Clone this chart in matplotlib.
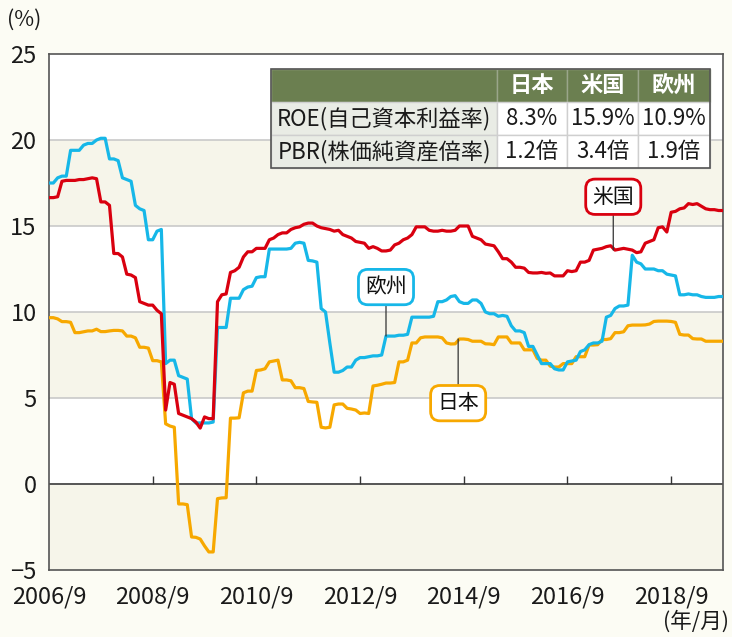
import matplotlib
matplotlib.use("Agg")
import matplotlib.pyplot as plt
import numpy as np
from matplotlib.patches import Rectangle

plt.rcParams['font.family'] = ['Noto Sans CJK JP', 'DejaVu Sans']

# ---- data (monthly, 2006/9 .. 2019/9) ----
tick_labels = ["2006/9", "2008/9", "2010/9", "2012/9", "2014/9", "2016/9", "2018/9"]

japan = [9.67, 9.67, 9.6, 9.44, 9.44, 9.4, 8.8, 8.8, 8.85, 8.9, 8.9, 9.0, 8.86, 8.86, 8.9, 8.93, 8.93, 8.9,
         8.6, 8.6, 8.5, 7.95, 7.95, 7.9, 7.17, 7.17, 7.1, 3.5, 3.37, 3.3, -1.16, -1.16, -1.2, -3.08, -3.1, -3.2,
         -3.6, -3.95, -3.95, -0.85, -0.81, -0.8, 3.83, 3.83, 3.85, 5.3, 5.4, 5.4, 6.6, 6.63, 6.7, 7.1, 7.15, 7.2,
         6.05, 6.05, 6.0, 5.6, 5.6, 5.55, 4.8, 4.77, 4.75, 3.3, 3.26, 3.3, 4.6, 4.65, 4.65, 4.4, 4.36, 4.3,
         4.1, 4.13, 4.1, 5.7, 5.74, 5.8, 5.87, 5.87, 5.9, 7.1, 7.1, 7.2, 8.2, 8.2, 8.5, 8.55, 8.55, 8.55,
         8.55, 8.5, 8.2, 8.14, 8.15, 8.43, 8.43, 8.4, 8.3, 8.3, 8.3, 8.15, 8.14, 8.1, 8.55, 8.55, 8.55,
         8.2, 8.2, 8.2, 7.8, 7.8, 7.8, 7.3, 7.2, 7.2, 6.85, 6.8, 6.8, 7.0, 7.0, 7.0, 7.4, 7.4, 7.4,
         8.08, 8.08, 8.1, 8.4, 8.4, 8.45, 8.8, 8.8, 8.85, 9.2, 9.24, 9.24, 9.24, 9.25, 9.3, 9.45, 9.47, 9.47,
         9.47, 9.45, 9.4, 8.7, 8.66, 8.66, 8.45, 8.43, 8.43, 8.3, 8.3, 8.3, 8.3, 8.3]

usa = [16.65, 16.65, 16.7, 17.6, 17.65, 17.65, 17.65, 17.7, 17.7, 17.75, 17.8, 17.75, 16.4, 16.4, 16.2,
       13.4, 13.4, 13.2, 12.2, 12.15, 12.0, 10.6, 10.5, 10.4, 10.4, 10.1, 9.9, 4.3, 5.9, 5.8, 4.1, 4.0, 3.9,
       3.8, 3.6, 3.25, 3.9, 3.8, 3.8, 10.6, 11.0, 11.05, 12.3, 12.4, 12.6, 13.2, 13.5, 13.5, 13.7, 13.7, 13.7,
       14.2, 14.3, 14.5, 14.6, 14.6, 14.8, 14.9, 14.95, 15.1, 15.17, 15.17, 15.0, 14.9, 14.85, 14.8, 14.7,
       14.75, 14.5, 14.4, 14.3, 14.1, 14.05, 14.0, 13.7, 13.8, 13.7, 13.55, 13.55, 13.6, 13.9, 14.0, 14.2,
       14.3, 14.5, 14.95, 14.95, 14.95, 14.75, 14.7, 14.7, 14.75, 14.7, 14.7, 14.75, 15.0, 15.0, 15.0, 14.4,
       14.3, 14.2, 13.95, 13.9, 13.85, 13.5, 13.1, 13.1, 12.9, 12.6, 12.6, 12.55, 12.3, 12.27, 12.27, 12.3,
       12.25, 12.27, 12.1, 12.1, 12.1, 12.4, 12.35, 12.4, 12.9, 12.9, 13.0, 13.6, 13.65, 13.7, 13.8, 13.85,
       13.6, 13.65, 13.7, 13.65, 13.6, 13.45, 13.5, 14.0, 14.1, 14.2, 14.9, 14.95, 14.65, 15.8, 15.85, 16.0,
       16.05, 16.3, 16.25, 16.3, 16.15, 16.0, 15.95, 15.95, 15.9, 15.9]

europe = [17.5, 17.5, 17.8, 17.9, 17.9, 19.4, 19.4, 19.4, 19.7, 19.8, 19.8, 20.0, 20.1, 20.1, 18.9, 18.9,
          18.8, 17.8, 17.7, 17.6, 16.2, 16.0, 15.9, 14.2, 14.2, 14.7, 14.8, 7.0, 7.2, 7.2, 6.3, 6.2, 6.1,
          3.8, 3.55, 3.55, 3.55, 3.55, 3.6, 9.1, 9.1, 9.1, 10.8, 10.8, 10.8, 11.3, 11.45, 11.5, 12.0, 12.05,
          12.05, 13.66, 13.66, 13.66, 13.66, 13.66, 13.7, 14.0, 14.05, 14.0, 13.0, 12.97, 12.9, 10.2, 10.0,
          8.2, 6.5, 6.5, 6.6, 6.8, 6.8, 7.2, 7.35, 7.35, 7.4, 7.45, 7.45, 7.5, 8.6, 8.6, 8.6, 8.65, 8.65,
          8.7, 9.7, 9.7, 9.7, 9.7, 9.7, 9.75, 10.6, 10.6, 10.7, 10.9, 10.95, 10.6, 10.5, 10.5, 10.7, 10.7,
          10.5, 10.0, 9.9, 9.9, 9.75, 9.8, 9.75, 9.2, 8.9, 8.9, 8.8, 8.0, 8.0, 7.5, 7.0, 7.0, 7.0, 6.7,
          6.63, 6.63, 7.1, 7.15, 7.2, 7.7, 7.8, 8.1, 8.2, 8.2, 8.3, 9.7, 9.8, 10.2, 10.35, 10.35, 10.4,
          13.3, 12.9, 12.8, 12.5, 12.5, 12.5, 12.4, 12.4, 12.2, 12.15, 12.1, 11.0, 11.0, 11.05, 11.0, 11.0,
          10.9, 10.85, 10.85, 10.85, 10.9, 10.9]

series_names = ["日本", "米国", "欧州"]
table_rows = ["ROE(自己資本利益率)", "PBR(株価純資産倍率)"]
table_values = [["8.3%", "15.9%", "10.9%"], ["1.2倍", "3.4倍", "1.9倍"]]

# ---- styling ----
BG = '#fcfcf4'
BAND = '#f6f5ea'
C_JP = '#f7a800'
C_US = '#d9000f'
C_EU = '#16b7e8'
HEAD = '#6b7f50'

months = np.arange(len(japan))

fig = plt.figure(figsize=(7.32, 6.37), dpi=100, facecolor=BG)
ax = fig.add_axes([49/732, 67/637, 674/732, 516/637])
ax.set_facecolor('white')
ax.set_xlim(0, 156)
ax.set_ylim(-5, 25)

for lo in (-5, 5, 15):
    ax.axhspan(lo, lo + 5, color=BAND, zorder=0, lw=0)
for yv in (5, 10, 15, 20):
    ax.axhline(yv, color='#c9c9c9', lw=1.2, zorder=1)
ax.axhline(0, color='#555555', lw=1.4, zorder=2)
tick_pos = np.arange(0, 157, 24)
ax.vlines(tick_pos[1:], 0, 0.45, color='#333333', lw=1.0, zorder=2)

ax.plot(months, japan, color=C_JP, lw=2.3, zorder=3, solid_joinstyle='round')
ax.plot(months, europe, color=C_EU, lw=2.3, zorder=4, solid_joinstyle='round')
ax.plot(months, usa, color=C_US, lw=2.3, zorder=5, solid_joinstyle='round')

for s in ax.spines.values():
    s.set_color('#555555')
    s.set_linewidth(1.2)

ax.set_yticks([-5, 0, 5, 10, 15, 20, 25])
ax.set_yticklabels(['−5', '0', '5', '10', '15', '20', '25'])
ax.set_xticks(tick_pos)
ax.set_xticklabels(tick_labels)
ax.tick_params(axis='both', length=0, labelsize=17, colors='#1a1a1a')
ax.tick_params(axis='y', pad=9)
ax.tick_params(axis='x', pad=11)

fig.text(7/732, 1 - 20/637, '(%)', fontsize=15.5, ha='left', va='center', color='#1a1a1a')
fig.text(729/732, 1 - 622/637, '(年/月)', fontsize=15.5, ha='right', va='center', color='#1a1a1a')

def callout(idx, vals, text_y, label, color):
    ax.annotate(label, xy=(idx, vals[int(round(idx))]), xytext=(idx, text_y),
                textcoords='data', ha='center', va='center', fontsize=15, color='#111111',
                bbox=dict(boxstyle='round,pad=0.32,rounding_size=0.45', fc='white', ec=color, lw=2),
                arrowprops=dict(arrowstyle='-', color='#333333', lw=0.9, shrinkA=0, shrinkB=0),
                zorder=6)

callout(130.6, usa, 16.7, series_names[1], C_US)
callout(78, europe, 11.45, series_names[2], C_EU)
callout(94.7, japan, 4.7, series_names[0], C_JP)

cell_text = [[""] + series_names] + [[r] + v for r, v in zip(table_rows, table_values)]
x0 = (271 - 49) / 674
y0 = (570 - 168) / 516
w = (710 - 271) / 674
h = (168 - 69) / 516
tbl = ax.table(cellText=cell_text, bbox=[x0, y0, w, h], cellLoc='center', zorder=7)
tbl.auto_set_font_size(False)
colw = [226, 70, 71, 72]
tot = sum(colw)
for (r, c), cell in tbl.get_celld().items():
    cell.set_width(w * colw[c] / tot)
    cell.set_edgecolor('#cfcfcf')
    cell.set_linewidth(1.0)
    cell.PAD = 0.02
    txt = cell.get_text()
    txt.set_fontsize(16)
    txt.set_color('#1a1a1a')
    if r == 0:
        cell.set_facecolor(HEAD)
        cell.set_edgecolor('#9aa68a')
        txt.set_color('white')
        txt.set_fontweight('bold')
    elif c == 0:
        cell.set_facecolor('#e9ece5')
    else:
        cell.set_facecolor('white')
ax.add_patch(Rectangle((x0, y0), w, h, transform=ax.transAxes, fill=False,
                       ec='#555555', lw=1.2, zorder=8))

fig.savefig('out.png', dpi=100, facecolor=BG)
